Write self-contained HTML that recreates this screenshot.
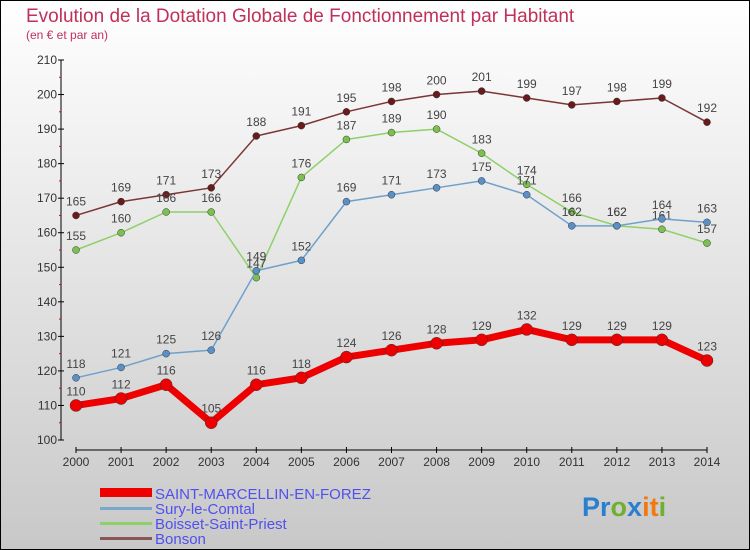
<!DOCTYPE html>
<html><head><meta charset="utf-8"><style>
body{margin:0;}
#c{width:750px;height:550px;position:relative;overflow:hidden;}
svg text{font-family:"Liberation Sans",sans-serif;}
</style></head><body>
<div id="c">
<svg id="s" width="750" height="550" xmlns="http://www.w3.org/2000/svg">
<defs><linearGradient id="bg" x1="0" y1="0" x2="0" y2="1"><stop offset="0" stop-color="#ffffff"/><stop offset="1" stop-color="#c8c8c8"/></linearGradient></defs>
<rect x="0.5" y="0.5" width="749" height="549" fill="url(#bg)" stroke="#000"/>
<text x="26" y="22" font-size="19" fill="#c0305a">Evolution de la Dotation Globale de Fonctionnement par Habitant</text>
<text x="26" y="39" font-size="12" fill="#c0305a">(en € et par an)</text>
<g id="axes"></g><g id="series"></g>
<g>
<rect x="100" y="488" width="52" height="9" fill="#e00"/>
<text x="155" y="499" font-size="15" fill="#5050ee">SAINT-MARCELLIN-EN-FOREZ</text>
<rect x="100" y="507" width="52" height="3" fill="#7aa8cc"/>
<text x="155" y="514" font-size="15" fill="#5050ee">Sury-le-Comtal</text>
<rect x="100" y="522" width="52" height="3" fill="#8ed068"/>
<text x="155" y="529" font-size="15" fill="#5050ee">Boisset-Saint-Priest</text>
<rect x="100" y="537" width="52" height="3" fill="#8a5555"/>
<text x="155" y="544" font-size="15" fill="#5050ee">Bonson</text>
</g>
<text x="582" y="516" font-size="27" font-weight="bold"><tspan fill="#2a7fd0">Pr</tspan><tspan fill="#70b030">o</tspan><tspan fill="#2a7fd0">x</tspan><tspan fill="#f07a10">it</tspan><tspan fill="#70b030">i</tspan></text>
</svg></div>
<script>
const years=[2000,2001,2002,2003,2004,2005,2006,2007,2008,2009,2010,2011,2012,2013,2014];
const yTicks=[100,110,120,130,140,150,160,170,180,190,200,210];
const saint=[110,112,116,105,116,118,124,126,128,129,132,129,129,129,123];
const sury=[118,121,125,126,149,152,169,171,173,175,171,162,162,164,163];
const boisset=[155,160,166,166,147,176,187,189,190,183,174,166,162,161,157];
const bonson=[165,169,171,173,188,191,195,198,200,201,199,197,198,199,192];
const NS="http://www.w3.org/2000/svg";
const x=i=>76+i*(707-76)/14;
const y=v=>440-(v-100)*(380/110);
function mk(t,a,p){const e=document.createElementNS(NS,t);for(const k in a)e.setAttribute(k,a[k]);p.appendChild(e);return e;}
const ax=document.getElementById('axes');
let e=mk('line',{x1:61,y1:60,x2:61,y2:440,stroke:'#000'},ax);

e=mk('line',{x1:76,y1:450,x2:707,y2:450,stroke:'#000'},ax);

yTicks.forEach(v=>{mk('line',{x1:58,y1:y(v),x2:64,y2:y(v),stroke:'#000'},ax);
 if(v<210)mk('line',{x1:59,y1:y(v+5),x2:61,y2:y(v+5),stroke:'#e00'},ax);
 const t=mk('text',{x:57,y:y(v)+4,'font-size':12,fill:'#333','text-anchor':'end'},ax);t.textContent=v;
 });
years.forEach((yr,i)=>{mk('line',{x1:x(i),y1:447,x2:x(i),y2:453,stroke:'#000'},ax);
 const t=mk('text',{x:x(i),y:466,'font-size':12,fill:'#333','text-anchor':'middle'},ax);t.textContent=yr;
 });
const sg=document.getElementById('series');
function draw(d,col,w,r,name,dot){
 const g=mk('g',{},sg);
 mk('polyline',{points:d.map((v,i)=>x(i)+','+y(v)).join(' '),fill:'none',stroke:col,'stroke-width':w,'stroke-linejoin':'round'},g);
 d.forEach((v,i)=>{const c=mk('circle',{cx:x(i),cy:y(v),r:r,fill:dot,stroke:'#333','stroke-width':0.5},g);
  
  const t=mk('text',{x:x(i),y:y(v)-10,'font-size':12,fill:'#444','text-anchor':'middle'},g);t.textContent=v;
  });
}
draw(bonson,'#7a3535',1.5,3.5,'bonson','#6a1a1a');
draw(boisset,'#8ed068',1.5,3.5,'boisset','#7cc050');
draw(sury,'#6fa0cc',1.5,3.5,'sury','#5a90c8');
draw(saint,'#ee0000',7,6,'saint-marcellin','#ee0000');
</script>
</body></html>
